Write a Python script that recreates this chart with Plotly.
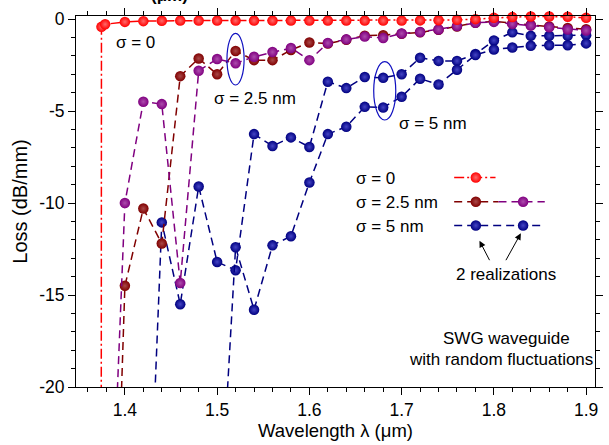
import plotly.graph_objects as go

# ---------------- data ----------------
red_x = [1.3742, 1.3746, 1.3786, 1.40, 1.42, 1.44, 1.46, 1.48, 1.50, 1.52, 1.54, 1.56, 1.58,
         1.60, 1.62, 1.64, 1.66, 1.68, 1.70, 1.72, 1.74, 1.76, 1.78, 1.80, 1.82, 1.84,
         1.86, 1.88, 1.90]
red_y = [-40, -0.42, -0.28, -0.15, -0.11, -0.09, -0.08, -0.08, -0.08, -0.08, -0.08, -0.08, -0.08,
         -0.08, -0.08, -0.08, -0.08, -0.08, -0.08, -0.07, -0.06, -0.04, 0.0, 0.07, 0.11, 0.14,
         0.14, 0.13, 0.07]

dr_x = [1.39, 1.40, 1.42, 1.44, 1.46, 1.48, 1.50, 1.52, 1.54, 1.56, 1.58, 1.60, 1.62, 1.64,
        1.66, 1.68, 1.70, 1.72, 1.74, 1.76, 1.78, 1.80, 1.82, 1.84, 1.86, 1.88, 1.90]
dr_y = [-30, -14.5, -10.3, -12.2, -3.1, -2.14, -3.0, -1.73, -2.23, -2.23, -1.68, -1.27, -1.33, -1.12,
        -0.9, -0.87, -0.8, -0.72, -0.58, -0.4, -0.2, -0.12, -0.24, -0.32, -0.4, -0.48, -0.55]

pu_x = [1.38, 1.40, 1.42, 1.44, 1.46, 1.48, 1.50, 1.52, 1.54, 1.56, 1.58, 1.60, 1.62, 1.64,
        1.66, 1.68, 1.70, 1.72, 1.74, 1.76, 1.78, 1.80, 1.82, 1.84, 1.86, 1.88, 1.90]
pu_y = [-35, -10.0, -4.49, -4.62, -14.35, -2.81, -2.17, -2.4, -2.05, -1.79, -1.57, -2.23, -1.3, -1.1,
        -0.95, -1.03, -0.78, -0.7, -0.56, -0.38, -0.2, -0.15, -0.26, -0.35, -0.44, -0.56, -0.62]

nA_x = [1.42, 1.44, 1.46, 1.48, 1.50, 1.52, 1.54, 1.56, 1.58, 1.60, 1.62, 1.64, 1.66,
        1.68, 1.70, 1.72, 1.74, 1.76, 1.78, 1.80, 1.82, 1.84, 1.86, 1.88, 1.90]
nA_y = [-36, -11.05, -15.5, -9.1, -13.2, -13.65, -6.25, -6.9, -6.43, -6.95, -3.4, -3.75, -3.15,
        -3.19, -3.0, -2.1, -2.27, -2.27, -1.9, -1.16, -0.72, -0.91, -0.91, -0.91, -0.87]

nB_x = [1.50, 1.52, 1.54, 1.56, 1.58, 1.60, 1.62, 1.64, 1.66, 1.68, 1.70, 1.72, 1.74,
        1.76, 1.78, 1.80, 1.82, 1.84, 1.86, 1.88, 1.90]
nB_y = [-30, -12.4, -15.8, -12.3, -11.8, -8.88, -6.25, -5.85, -4.77, -4.8, -4.22, -3.24, -3.55,
        -2.75, -1.95, -1.65, -1.54, -1.45, -1.42, -1.42, -1.32]

x_ticks = [1.4, 1.5, 1.6, 1.7, 1.8, 1.9]
x_ticktext = ["1.4", "1.5", "1.6", "1.7", "1.8", "1.9"]
y_ticks = [0, -5, -10, -15, -20]
y_ticktext = ["0", "-5", "-10", "-15", "-20"]

# ---------------- styles ----------------
RED, DRED, PURP, NAVY = "#FF0000", "#800000", "#800080", "#000080"
HI = {RED: "#FF6A6A", DRED: "#A84848", PURP: "#AC4CAC", NAVY: "#4444C4"}
DASH = "8px,5px"
DASHDOT = "10px,3px,2px,3px"
FONT = "Arial, Liberation Sans, sans-serif"


def series(x, y, color, dash, clip=True, xa="x", ya="y", mode="lines+markers"):
    return go.Scatter(
        x=x, y=y, mode=mode, xaxis=xa, yaxis=ya, cliponaxis=clip,
        line=dict(color=color, width=1.5, dash=dash),
        marker=dict(size=10.5, color=color, line=dict(width=0),
                    gradient=dict(type="radial", color=HI[color])),
        hoverinfo="skip",
    )


fig = go.Figure()
fig.add_trace(series(nA_x, nA_y, NAVY, DASH))
fig.add_trace(series(nB_x, nB_y, NAVY, DASH))
fig.add_trace(series(dr_x, dr_y, DRED, DASH))
fig.add_trace(series(pu_x, pu_y, PURP, DASH))
fig.add_trace(series(red_x, red_y, RED, DASHDOT, clip=False))

# ---------------- custom legend (pixel overlay axes) ----------------
L_ROWS = [177.5, 201.7, 225.5]
L_X0, L_XM, L_X1, L_M1, L_M2 = 460, 505, 552, 482, 530
fig.add_trace(series([L_X0, 502], [L_ROWS[0]] * 2, RED, DASHDOT, xa="x2", ya="y2", mode="lines"))
fig.add_trace(series([L_M1], [L_ROWS[0]], RED, DASHDOT, xa="x2", ya="y2", mode="markers"))
fig.add_trace(series([L_X0, L_XM], [L_ROWS[1]] * 2, DRED, DASH, xa="x2", ya="y2", mode="lines"))
fig.add_trace(series([L_XM, L_X1], [L_ROWS[1]] * 2, PURP, DASH, xa="x2", ya="y2", mode="lines"))
fig.add_trace(series([L_M1], [L_ROWS[1]], DRED, DASH, xa="x2", ya="y2", mode="markers"))
fig.add_trace(series([L_M2], [L_ROWS[1]], PURP, DASH, xa="x2", ya="y2", mode="markers"))
fig.add_trace(series([L_X0, L_X1], [L_ROWS[2]] * 2, NAVY, DASH, xa="x2", ya="y2", mode="lines"))
fig.add_trace(series([L_M1, L_M2], [L_ROWS[2]] * 2, NAVY, DASH, xa="x2", ya="y2", mode="markers"))

axis_common = dict(showline=True, linecolor="black", linewidth=1, mirror="allticks",
                   ticks="outside", ticklen=7, tickwidth=1, tickcolor="black",
                   showgrid=False, zeroline=False, tickfont=dict(size=17.5, family=FONT))

fig.update_layout(
    width=609, height=445,
    margin=dict(l=76, r=6, t=16, b=58, pad=0),
    plot_bgcolor="white", paper_bgcolor="white",
    showlegend=False,
    font=dict(family=FONT, size=17, color="black"),
    xaxis=dict(range=[1.347, 1.9096], tickmode="array", tickvals=x_ticks, ticktext=x_ticktext,
               minor=dict(tickmode="linear", tick0=1.4, dtick=0.02, ticks="outside",
                          ticklen=4, tickcolor="black", showgrid=False),
               title=dict(text="Wavelength λ (μm)", font=dict(size=18.5, family=FONT), standoff=3),
               **axis_common),
    yaxis=dict(range=[-20, 0.17], tickmode="array", tickvals=y_ticks, ticktext=y_ticktext,
               minor=dict(tickmode="linear", tick0=0, dtick=1, ticks="outside",
                          ticklen=4, tickcolor="black", showgrid=False),
               title=dict(text="Loss (dB/mm)", font=dict(size=20, family=FONT), standoff=6),
               **axis_common),
    xaxis2=dict(overlaying="x", range=[76, 603], visible=False, fixedrange=True),
    yaxis2=dict(overlaying="y", range=[387, 16], visible=False, fixedrange=True),
)

def txt(x, y, s, anchor="center", size=17):
    fig.add_annotation(x=x, y=y, xref="x2", yref="y2", text=s,
                       showarrow=False, xanchor=anchor, yanchor="middle",
                       font=dict(size=size, family=FONT, color="black"))

txt(136, 42, "σ = 0")
txt(258, 98, "σ = 2.5 nm")
txt(438, 123, "σ = 5 nm")
txt(358, 178, "σ = 0", anchor="left")
txt(358, 202, "σ = 2.5 nm", anchor="left")
txt(358, 226, "σ = 5 nm", anchor="left")
txt(513, 274, "2 realizations")
txt(513, 338, "SWG waveguide")
txt(508, 359, "with random fluctuations")

# clipped remnant of a title above the frame, as in the reference (paper coordinates)
fig.add_annotation(x=(171 - 76) / 527, y=1 + (16 + 4) / 371, xref="paper", yref="paper",
                   text="<b>(μm)</b>", showarrow=False, xanchor="center", yanchor="middle",
                   font=dict(size=17, family=FONT, color="black"))

for (hx, hy, tx, ty) in [(485.7, 240.7, 496.7, 261.7), (527.7, 233.3, 511.7, 261.7)]:
    fig.add_annotation(x=hx, y=hy, ax=tx, ay=ty, xref="x2", yref="y2", axref="x2", ayref="y2",
                       text="", showarrow=True, arrowhead=2, arrowsize=1.3, arrowwidth=1,
                       arrowcolor="black")

for (x0, x1, y0, y1) in [(229.3, 246.7, 33.3, 85), (378.3, 400.7, 61.7, 120)]:
    fig.add_shape(type="circle", xref="x2", yref="y2", x0=x0, x1=x1, y0=y0, y1=y1,
                  line=dict(color="#1010C0", width=1.2))

fig.write_html("out.html")
